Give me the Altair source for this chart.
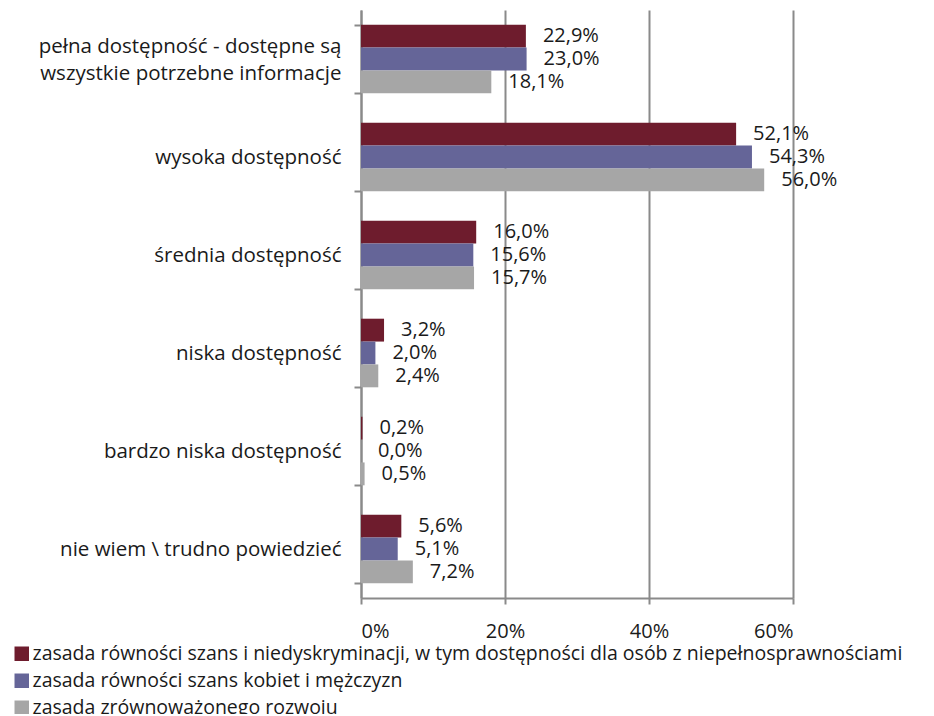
import altair as alt
import pandas as pd

categories = [
    "pełna dostępność - dostępne są|wszystkie potrzebne informacje",
    "wysoka dostępność",
    "średnia dostępność",
    "niska dostępność",
    "bardzo niska dostępność",
    "nie wiem \\ trudno powiedzieć",
]
series = [
    "zasada równości szans i niedyskryminacji, w tym dostępności dla osób z niepełnosprawnościami",
    "zasada równości szans kobiet i mężczyzn",
    "zasada zrównoważonego rozwoju",
]
values_s1 = [22.9, 52.1, 16.0, 3.2, 0.2, 5.6]
values_s2 = [23.0, 54.3, 15.6, 2.0, 0.0, 5.1]
values_s3 = [18.1, 56.0, 15.7, 2.4, 0.5, 7.2]
colors = ["#6E1C2D", "#656598", "#A6A6A6"]
x_ticks = [0, 20, 40, 60]

rows = []
for s, vals in zip(series, [values_s1, values_s2, values_s3]):
    for c, v in zip(categories, vals):
        rows.append({"category": c, "series": s, "value": v})
df = pd.DataFrame(rows)

FONT = "Open Sans"
GRID = "#8A8A8A"
TXT = "#1a1a1a"

base = alt.Chart(df).transform_calculate(
    label="replace(format(datum.value, '.1f'), '.', ',') + '%'"
).encode(
    y=alt.Y(
        "category:N",
        sort=categories,
        scale=alt.Scale(paddingInner=0.3, paddingOuter=0.15),
        axis=alt.Axis(
            title=None,
            labelExpr="isString(datum.label) ? split(datum.label, '|') : ''",
            labelOffset={
                "condition": {
                    "test": "isString(datum.value) && indexof(datum.value, '|') >= 0",
                    "value": -13,
                },
                "value": 0,
            },
            tickBand="extent",
            tickSize=7,
            tickColor=GRID,
            tickWidth=2,
            domainColor=GRID,
            domainWidth=2,
            labelFont=FONT,
            labelFontSize=20.5,
            labelColor=TXT,
            labelPadding=13,
            labelLimit=400,
            labelLineHeight=27,
            grid=False,
        ),
    ),
    yOffset=alt.YOffset("series:N", sort=series,
                        scale=alt.Scale(paddingInner=0, paddingOuter=0)),
)

bars = base.mark_bar().encode(
    x=alt.X(
        "value:Q",
        scale=alt.Scale(domain=[0, 60]),
        axis=alt.Axis(
            title=None,
            values=x_ticks,
            labelExpr="datum.value + '%'",
            grid=True,
            gridColor=GRID,
            gridWidth=2,
            tickColor=GRID,
            tickWidth=2,
            tickSize=6,
            domainColor=GRID,
            domainWidth=2,
            labelFont=FONT,
            labelFontSize=20,
            labelColor=TXT,
            labelPadding=17,
        ),
    ),
    color=alt.Color(
        "series:N",
        sort=series,
        scale=alt.Scale(domain=series, range=colors),
        legend=alt.Legend(
            title=None,
            orient="none",
            legendX=-349,
            legendY=634,
            direction="vertical",
            symbolType="square",
            symbolSize=210,
            symbolStrokeWidth=0,
            labelFont=FONT,
            labelFontSize=19.5,
            labelColor=TXT,
            labelLimit=1000,
            labelOffset=1,
            rowPadding=6,
        ),
    ),
)

text = base.mark_text(
    align="left", baseline="middle", dx=17, font=FONT, fontSize=20, color=TXT
).encode(x=alt.X("value:Q"), text="label:N")

chart = (
    alt.layer(bars, text)
    .properties(
        width=432,
        height=588,
        autosize=alt.AutoSizeParams(type="none"),
        padding={"left": 353, "top": 2, "right": 133, "bottom": 116},
    )
    .configure_view(stroke=None)
)

chart.save("out.html", embed_options={"renderer": "svg", "actions": False})
